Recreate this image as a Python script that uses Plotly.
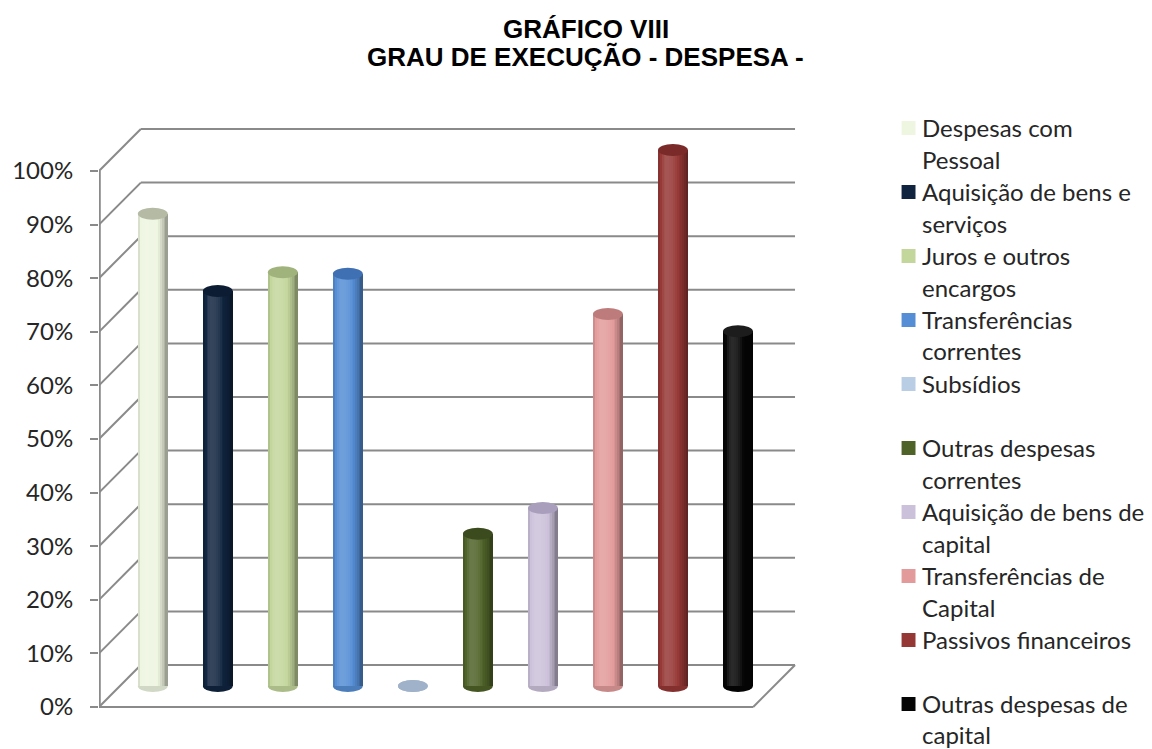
import plotly.graph_objects as go

# ---- dados ----
categorias = [
    "Despesas com Pessoal", "Aquisição de bens e serviços", "Juros e outros encargos",
    "Transferências correntes", "Subsídios", "Outras despesas correntes",
    "Aquisição de bens de capital", "Transferências de Capital",
    "Passivos financeiros", "Outras despesas de capital",
]
rotulos_legenda = [
    ["Despesas com", "Pessoal"], ["Aquisição de bens e", "serviços"], ["Juros e outros", "encargos"],
    ["Transferências", "correntes"], ["Subsídios"], ["Outras despesas", "correntes"],
    ["Aquisição de bens de", "capital"], ["Transferências de", "Capital"],
    ["Passivos financeiros"], ["Outras despesas de", "capital"],
]
grau_execucao = [88.1, 73.7, 77.2, 76.9, 0.0, 28.4, 33.2, 69.4, 100.0, 66.2]  # %
cores = ["#eef5e0", "#10243f", "#c3d69b", "#558ed5", "#b9cde5",
         "#4f6228", "#ccc1da", "#e29b9a", "#953735", "#050505"]
cores_topo = ["#b4baa3", "#0c1c32", "#a0b37c", "#3f70b3", "#9fb2c9",
              "#3c4b1e", "#a99fbc", "#bd7c7b", "#7a2a28", "#1c1c1c"]
marcas_y = [0, 10, 20, 30, 40, 50, 60, 70, 80, 90, 100]
rotulos_y = [f"{t}%" for t in marcas_y]

titulo_1 = "GRÁFICO VIII"
titulo_2 = "GRAU DE EXECUÇÃO - DESPESA -"

# ---- geometria da página (px) ----
W, H = 1152, 749
PL, PR, PT, PB = 96, 800, 86, 729
X0_PX, PASSO_PX = 150.0, 65.3          # centro da 1.ª coluna e passo entre colunas
Y0_PX, PX_PCT = 686.0, 5.36            # plano das colunas: 0% e px por ponto percentual
PROF_PX = 21.0                         # meia profundidade da perspetiva

x_min = (PL - X0_PX) / PASSO_PX
x_max = (PR - X0_PX) / PASSO_PX
y_min = (Y0_PX - PB) / PX_PCT
y_max = (Y0_PX - PT) / PX_PCT
dzx = PROF_PX / PASSO_PX
dzy = PROF_PX / PX_PCT
x_fundo_dir = (795 - X0_PX) / PASSO_PX
larg = 30 / PASSO_PX
elipse = 6 / PX_PCT
pos = list(range(len(categorias)))


def hex_rgb(c):
    c = c.lstrip("#")
    return tuple(int(c[i:i + 2], 16) for i in (0, 2, 4))


def sombra(c, f):
    r, g, b = hex_rgb(c)
    alvo = 255 if f > 0 else 0
    a = abs(f)
    return "rgb({},{},{})".format(*[round(v + (alvo - v) * a) for v in (r, g, b)])


def luz(u):
    # iluminação de um cilindro: realce à esquerda do centro, bordas escuras
    if u < 0.3:
        return 0.15 - 0.30 * ((0.3 - u) / 0.3) ** 2
    return 0.15 - 0.55 * ((u - 0.3) / 0.7) ** 2


def px2paper(px, py):
    return (px - PL) / (PR - PL), (PB - py) / (PB - PT)


fig = go.Figure()

# colunas cilíndricas: faixas sobrepostas com tons do lado iluminado ao lado sombreado
N = 16
for k in range(N):
    u = (k + 0.5) / N
    fig.add_trace(go.Bar(
        x=pos, y=grau_execucao, base=0,
        width=larg * (N - k) / N, offset=-larg / 2 + k * larg / N,
        marker=dict(color=[sombra(c, luz(u)) for c in cores], line=dict(width=0)),
        customdata=categorias,
        hovertemplate="%{customdata}: %{y:.1f}%<extra></extra>",
        showlegend=False,
    ))

shapes = []
linha = dict(color="#8a8a8a", width=2)

# parede do fundo: linhas de grelha; parede lateral: diagonais
for t in marcas_y:
    shapes.append(dict(type="line", xref="x", yref="y", layer="below",
                       x0=x_min + 2 * dzx, x1=x_fundo_dir, y0=t + dzy, y1=t + dzy, line=linha))
    shapes.append(dict(type="line", xref="x", yref="y", layer="below",
                       x0=x_min, x1=x_min + 2 * dzx, y0=t - dzy, y1=t + dzy, line=linha))
# eixo vertical da frente
shapes.append(dict(type="line", xref="x", yref="y", layer="below",
                   x0=x_min + 0.012, x1=x_min + 0.012, y0=-dzy, y1=100 - dzy, line=linha))
# chão: aresta da frente e aresta direita
shapes.append(dict(type="line", xref="x", yref="y", layer="below",
                   x0=x_min, x1=x_fundo_dir - 2 * dzx, y0=-dzy, y1=-dzy, line=linha))
shapes.append(dict(type="line", xref="x", yref="y", layer="below",
                   x0=x_fundo_dir - 2 * dzx, x1=x_fundo_dir, y0=-dzy, y1=dzy, line=linha))

# base arredondada de cada coluna
for i, (v, c) in enumerate(zip(grau_execucao, cores)):
    shapes.append(dict(type="circle", xref="x", yref="y", layer="below",
                       x0=i - larg / 2, x1=i + larg / 2, y0=-elipse, y1=elipse,
                       fillcolor=sombra(c, -0.12) if v > 0 else cores_topo[i], line=dict(width=0)))
# tampa superior de cada coluna
for i, (v, ct) in enumerate(zip(grau_execucao, cores_topo)):
    shapes.append(dict(type="circle", xref="x", yref="y", layer="above",
                       x0=i - larg / 2, x1=i + larg / 2, y0=v - elipse, y1=v + elipse,
                       fillcolor=ct, line=dict(width=0)))

# legenda
annotations = []
fonte_leg = dict(family="Lato", size=24, color="#262626")
Y_LEG, PASSO_LEG = 127.0, 32.0
for k, (linhas, c) in enumerate(zip(rotulos_legenda, cores)):
    y_item = Y_LEG + 2 * PASSO_LEG * k
    x0p, y0p = px2paper(902, y_item - 6)
    x1p, y1p = px2paper(916, y_item + 8)
    shapes.append(dict(type="rect", xref="paper", yref="paper", x0=x0p, x1=x1p, y0=y0p, y1=y1p,
                       fillcolor=c, line=dict(width=0)))
    for j, txt in enumerate(linhas):
        xp, yp = px2paper(921, y_item + j * PASSO_LEG)
        annotations.append(dict(text=txt, xref="paper", yref="paper", x=xp, y=yp,
                                xanchor="left", yanchor="middle", showarrow=False, font=fonte_leg))

# título
for txt, cx, cy in [(titulo_1, 585, 29), (titulo_2, 585, 57)]:
    xp, yp = px2paper(cx, cy)
    annotations.append(dict(text="<b>" + txt + "</b>", xref="paper", yref="paper", x=xp, y=yp,
                            xanchor="center", yanchor="middle", showarrow=False,
                            font=dict(family="Liberation Sans", size=26, color="#000000")))

fig.update_layout(
    width=W, height=H,
    margin=dict(l=PL, r=W - PR, t=PT, b=H - PB, pad=0),
    paper_bgcolor="white", plot_bgcolor="white",
    barmode="overlay", bargap=0,
    shapes=shapes, annotations=annotations,
    xaxis=dict(range=[x_min, x_max], showgrid=False, zeroline=False, showline=False,
               showticklabels=False, ticks="", fixedrange=True),
    yaxis=dict(range=[y_min, y_max], showgrid=False, zeroline=False, showline=False,
               tickmode="array", tickvals=[t - dzy for t in marcas_y], ticktext=rotulos_y,
               ticks="outside", ticklen=8, tickwidth=2, tickcolor="#8a8a8a",
               ticklabelstandoff=12,
               tickfont=dict(family="Lato", size=24, color="#262626"), fixedrange=True),
    showlegend=False,
)

fig.write_html("out.html")
